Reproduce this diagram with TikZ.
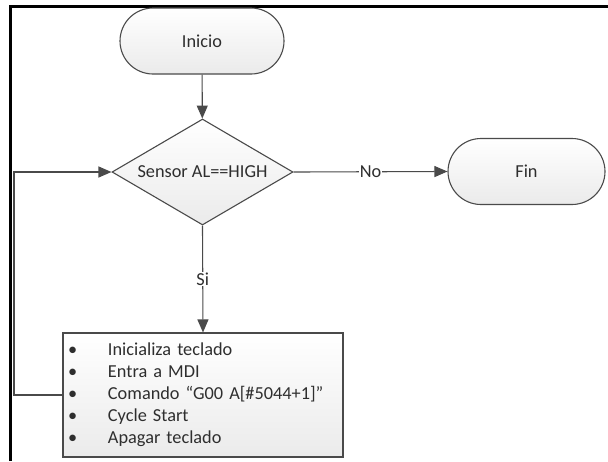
\documentclass[tikz,border=0pt]{standalone}
\usepackage{fontspec}
\setmainfont{Carlito}
\usetikzlibrary{shapes.geometric, shapes.misc}
\usetikzlibrary{arrows.meta}
\tikzset{>={Triangle[width=11pt,length=13pt]}}
\definecolor{trazo}{HTML}{4A4A4A}
\definecolor{texto}{HTML}{2E2E2E}

\begin{document}
\begin{tikzpicture}[
    x = 1pt, y = -1pt,
    font = \fontsize{18.3}{22}\selectfont, text = texto,
    forma/.style = {draw=trazo, line width=1.1pt,
        top color=white, bottom color=gray!16},
    terminal/.style = {forma, rounded rectangle, minimum width=164pt,
        minimum height=66pt, inner sep=0pt},
    decision/.style = {forma, diamond, aspect=1.71, minimum width=181pt,
        minimum height=106pt, inner sep=0pt},
    proceso/.style = {forma, rectangle, text width=270pt, inner xsep=5pt,
        minimum height=124pt, align=left},
    flecha/.style = {draw=trazo, line width=1.1pt, ->},
    etiqueta/.style = {fill=white, inner sep=1pt}
  ]
  \useasboundingbox (0,0) rectangle (608,461);
  \draw[line width=2.3pt] (10.5,461) -- (10.5,6.5) -- (608,6.5);

  \node[terminal] (inicio) at (202,41) {Inicio};
  \node[decision] (sensor) at (202.5,172) {Sensor AL==HIGH};
  \node[terminal, minimum width=157pt] (fin) at (526.5,171.5) {Fin};
  \node[proceso] (acciones) at (203,395)
    {\makebox[40pt][l]{\textbullet}Inicializa teclado\\
     \makebox[40pt][l]{\textbullet}Entra a MDI\\
     \makebox[40pt][l]{\textbullet}Comando “G00 A[\#5044+1]”\\
     \makebox[40pt][l]{\textbullet}Cycle Start\\
     \makebox[40pt][l]{\textbullet}Apagar teclado};
  \coordinate (retorno) at (14,395);

  \draw[flecha] (inicio) -- (sensor);
  \draw[flecha] (sensor.east) -- node[etiqueta] {No} (fin.west);
  \draw[flecha] (sensor.south) -- node[etiqueta] {Si} (acciones.north);
  \draw[flecha] (acciones.west) -- (retorno) |- (sensor.west);
\end{tikzpicture}
\end{document}
